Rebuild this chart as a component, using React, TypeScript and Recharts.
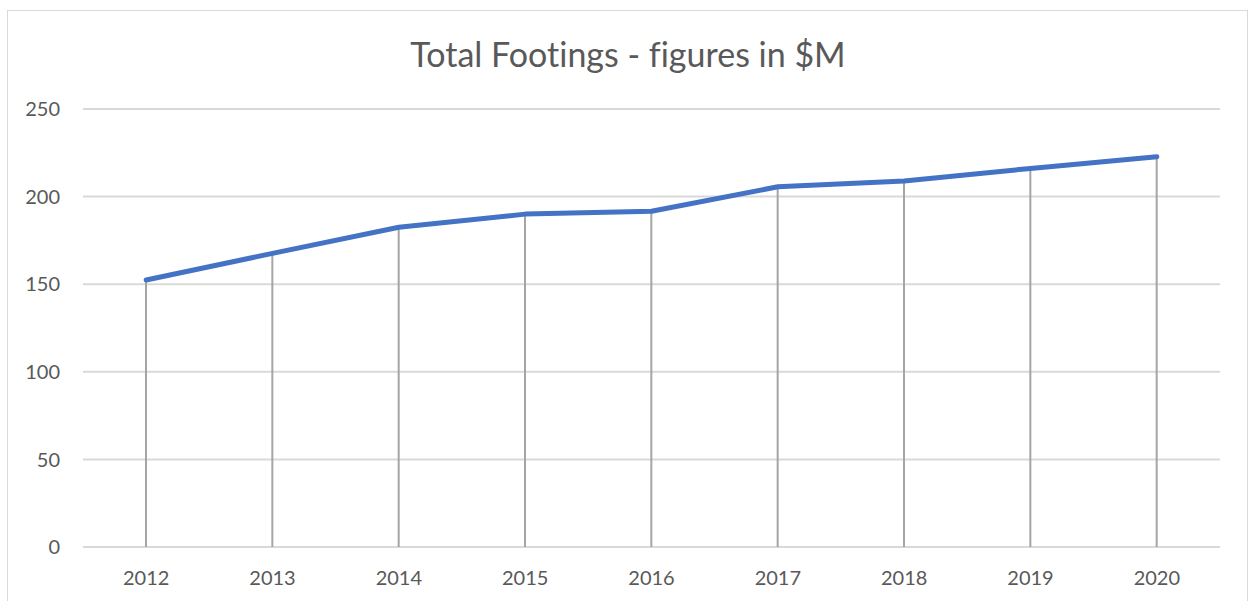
import React from 'react';
import { ComposedChart, Line, Bar, XAxis, YAxis, CartesianGrid } from 'recharts';

const years = ['2012', '2013', '2014', '2015', '2016', '2017', '2018', '2019', '2020'];
const footings = [152.4, 167.6, 182.5, 190, 191.6, 205.6, 208.9, 216.1, 222.8];
const yTicks = [0, 50, 100, 150, 200, 250];

const data = years.map((year, i) => ({ year, value: footings[i] }));

const FONT = 'Lato, "Open Sans", sans-serif';
const TEXT = '#595959';

export default function App() {
  return (
    <div style={{ position: 'absolute', left: 0, top: 0, width: 1249, height: 601, background: '#fff', overflow: 'hidden' }}>
      {/* chart frame, bottom edge runs off the picture */}
      <div
        style={{
          position: 'absolute',
          left: 7,
          top: 10,
          width: 1241,
          height: 620,
          border: '1.5px solid #d9d9d9',
          boxSizing: 'border-box',
        }}
      />
      <div
        style={{
          position: 'absolute',
          left: 7,
          top: 32,
          width: 1242,
          textAlign: 'center',
          fontFamily: FONT,
          fontSize: 34,
          fontVariantLigatures: 'none',
          color: TEXT,
          lineHeight: '44px',
        }}
      >
        Total Footings - figures in $M
      </div>
      <div style={{ position: 'absolute', left: 0, top: 0 }}>
        <ComposedChart
          width={1249}
          height={601}
          data={data}
          margin={{ top: 109, right: 29, left: 0, bottom: 0 }}
        >
          <CartesianGrid vertical={false} stroke="#d9d9d9" strokeWidth={2} />
          <XAxis
            dataKey="year"
            axisLine={false}
            tickLine={false}
            tickSize={0}
            tickMargin={24}
            height={54}
            tick={{ fill: TEXT, fontSize: 20, fontFamily: FONT }}
          />
          <YAxis
            domain={[0, 250]}
            ticks={yTicks}
            axisLine={false}
            tickLine={false}
            tickSize={0}
            tickMargin={23}
            width={83}
            tick={{ fill: TEXT, fontSize: 20, fontFamily: FONT }}
          />
          <Bar dataKey="value" barSize={2} fill="#a5a5a5" isAnimationActive={false} />
          <Line
            type="linear"
            dataKey="value"
            stroke="#4472c4"
            strokeWidth={5}
            strokeLinecap="round"
            strokeLinejoin="round"
            dot={false}
            activeDot={false}
            isAnimationActive={false}
          />
        </ComposedChart>
      </div>
    </div>
  );
}
